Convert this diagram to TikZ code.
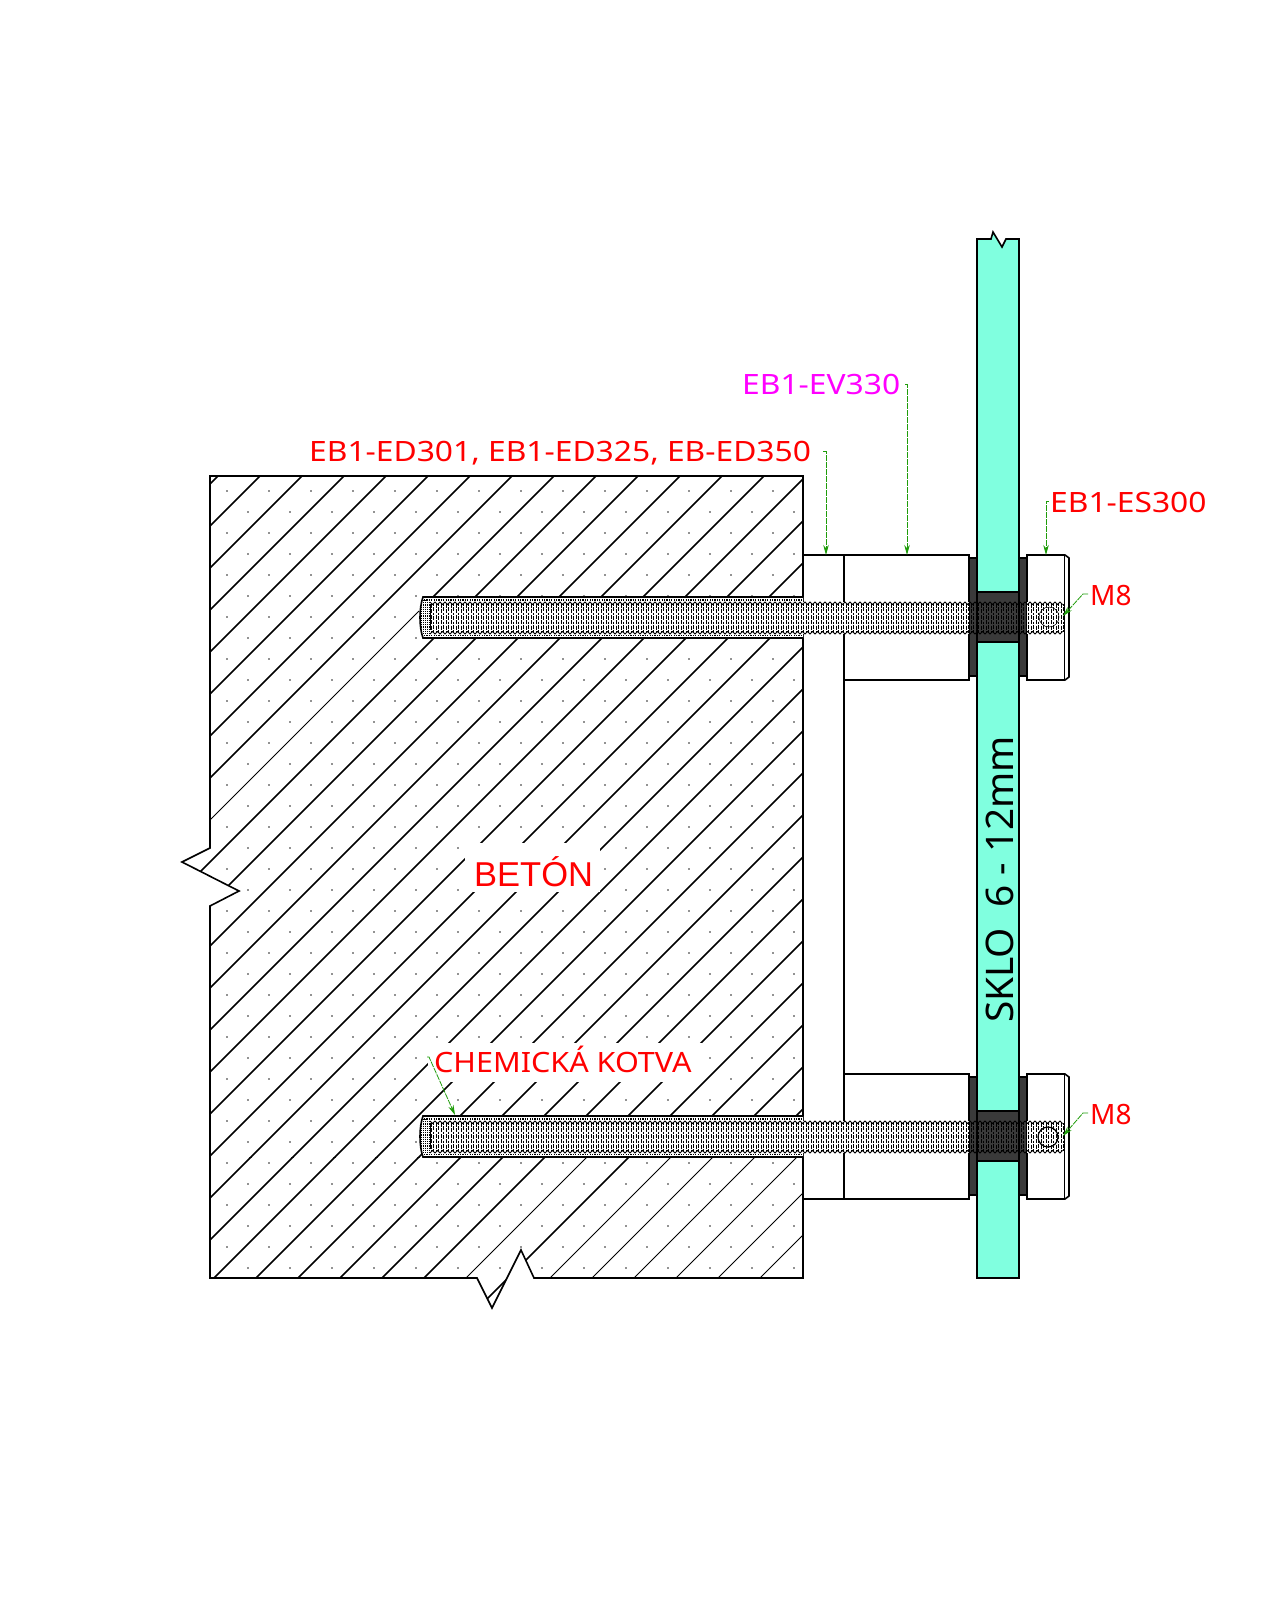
\documentclass[tikz,border=0pt]{standalone}
\usepackage{fontspec}
\usetikzlibrary{arrows.meta}
\setmainfont{Noto Sans}
\newfontfamily\betonfont{Liberation Sans}
\newfontfamily\codefont[FakeStretch=1.135]{Noto Sans}
\newfontfamily\chemfont[FakeStretch=1.09]{Noto Sans}
\newfontfamily\sklofont[FakeStretch=1.02]{Noto Sans}
\definecolor{glassc}{HTML}{80FFDF}
\definecolor{darkc}{HTML}{3A3A3A}
\definecolor{leaderc}{HTML}{1F9C0A}
\definecolor{labred}{HTML}{FF0000}
\definecolor{labmag}{HTML}{FF00FF}
\tikzset{
  outline/.style={draw=black,line width=1.6pt,line join=miter},
  hatchthick/.style={draw=black,line width=1.5pt},
  hatchthin/.style={draw=black,line width=.8pt},
  leader/.style={draw=leaderc,line width=.8pt,dash pattern=on 6pt off 1pt},
  leadertip/.style={leader,-{Stealth[length=10pt,width=5.5pt,fill=leaderc]}},
  lab/.style={anchor=base west,inner sep=0pt,text=labred,font=\codefont\fontsize{28}{30}\selectfont},
  threadv/.style={draw=black,line width=.7pt},
  threade/.style={draw=black,line width=.9pt,line join=miter},
}
\newcommand{\concretepath}{(210,476) -- (803,476) -- (803,1278) -- (534,1278) -- (521,1250) -- (492,1308) -- (477,1278) -- (210,1278) -- (210,906) -- (239,891) -- (182,862) -- (210,848) -- cycle}
\begin{document}
\begin{tikzpicture}[x=1pt,y=-1pt]
\useasboundingbox (0,0) rectangle (1280,1600);
\fill[white] (0,0) rectangle (1280,1600);
% concrete
\begin{scope}
  \clip \concretepath;
  \fill[black] \foreach \r in {0,...,37} {
     \foreach \m in {0,...,14} {
       ({227+42*\m+21*mod(\r,2)-.65},{491+21*\r-.65}) rectangle +(1.3,1.3)
     }
  };
  \begin{scope}
    \clip (0,0) rectangle (1280,1157);
    \foreach \k in {0,...,33} {
      \ifnum\k=8\relax\else
        \draw[hatchthick] ({694+42*\k-100},100) -- ({694+42*\k-1400},1400);
      \fi
    }
    \draw[hatchthick] (433,597) -- (554,476);
    \draw[hatchthin] (419,611) -- (190,840);
  \end{scope}
  \begin{scope}
    \clip (0,1157) rectangle (1280,1400);
    \foreach \k in {0,...,24,26} {
      \draw[hatchthick] ({694+42*\k-100},100) -- ({694+42*\k-1400},1400);
    }
    \foreach \k in {25,27,28,...,33} {
      \draw[hatchthin] ({694+42*\k-100},100) -- ({694+42*\k-1400},1400);
    }
  \end{scope}
\end{scope}
\fill[white] (465,843) rectangle (600,892);
\fill[white] (428,1043) rectangle (702,1082);
\path[outline] \concretepath;
% spacer
\path[outline,fill=white] (803,555) rectangle (844,1199);
% glass
\path[outline,fill=glassc] (977,239) -- (991,239) -- (993,232) -- (1002,247) -- (1006,239) -- (1019,239) -- (1019,1278) -- (977,1278) -- cycle;
% bolts
\foreach \o in {0,519} {
\begin{scope}[shift={(0,\o)}]
  \path[outline,fill=white] (844,555) rectangle (969,680);
  \path[outline,fill=darkc] (969,558) rectangle (977,676);
  \path[outline,fill=darkc] (1019,558) rectangle (1027,676);
  \path[outline,fill=darkc] (977,592) rectangle (1019,642);
  \path[outline,fill=white] (1027,555) -- (1065,555) -- (1069,558) -- (1069,677) -- (1065,680) -- (1027,680) -- cycle;
  \draw[draw=black,line width=1pt] (1064,555) -- (1064,680);
  \fill[white] (803,602) rectangle (969,634);
  \fill[white] (1027,602) rectangle (1063.5,634);
  % anchored part
  \path[outline,fill=white] (803,597) -- (423,597) .. controls (419,608) and (419,627) .. (423,638) -- (803,638);
  \foreach \s in {421.5,423.5,...,429.5} {
    \draw[threadv,dash pattern=on 1.2pt off 1pt] (\s,600) -- (\s,635);
  }
  \draw[threade] (430,604) -- (430,630);
  \draw[draw=black,line width=1.2pt,dash pattern=on 1.2pt off 1.2pt] (424,600) -- (803,600);
  \draw[draw=black,line width=1.2pt,dash pattern=on 1.2pt off 1.2pt] (424,635.5) -- (803,635.5);
  \foreach \i in {0,2,...,252} {
    \draw[threadv,dash pattern=on 4pt off 1.4pt] ({431+2.5*\i},604) -- ({431+2.5*\i},632);
  }
  \foreach \i in {1,3,...,253} {
    \draw[threadv,dash pattern=on 2pt off 1.4pt on 4pt off 1.4pt] ({431+2.5*\i},604) -- ({431+2.5*\i},632);
  }
  \draw[threade] (430,602) \foreach \i in {1,...,253} { -- ({430+2.5*\i},{602+2.5*mod(\i,2)}) };
  \draw[threade] (430,634) \foreach \i in {1,...,253} { -- ({430+2.5*\i},{634-2.5*mod(\i,2)}) };
\end{scope}
}
\draw[draw=black,line width=.5pt] (1049,617) circle (10);
\draw[draw=black,line width=1.2pt] (1048,1137) circle (10);
% labels
\node[lab] (ed) at (309,461) {EB1-ED301, EB1-ED325, EB-ED350};
\node[lab,text=labmag] (ev) at (742,394) {EB1-EV330};
\node[lab] (es) at (1050,512) {EB1-ES300};
\node[lab,font=\fontsize{28}{30}\selectfont] (m8a) at (1090,605) {M8};
\node[lab,font=\fontsize{28}{30}\selectfont] (m8b) at (1090,1124.5) {M8};
\node[lab,font=\chemfont\fontsize{28}{30}\selectfont] (chem) at (434,1072) {CHEMICKÁ KOTVA};
\node[anchor=base west,inner sep=0pt,text=labred,font=\betonfont\fontsize{34.5}{36}\selectfont] (beton) at (474,886.5) {BETÓN};
\node[anchor=base west,inner sep=0pt,rotate=90,text=black,font=\sklofont\fontsize{38}{40}\selectfont] (sklo) at (1013,1023) {SKLO\ \ 6 - 12mm};
% leaders
\coordinate (edH) at (823,451); \coordinate (edT) at (826,555);
\coordinate (evH) at (905,384); \coordinate (evT) at (907,555);
\coordinate (esH) at (1049,501); \coordinate (esT) at (1046,555);
\coordinate (m1H) at (1088,594); \coordinate (m1K) at (1083,594); \coordinate (m1T) at (1063,616);
\coordinate (m2H) at (1088,1113); \coordinate (m2K) at (1083,1113); \coordinate (m2T) at (1063,1136);
\coordinate (chH) at (427,1057); \coordinate (chK) at (429,1057); \coordinate (chT) at (455,1115);
\draw[leadertip] (edH) -| (edT);
\draw[leadertip] (evH) -| (evT);
\draw[leadertip] (esH) -| (esT);
\draw[leadertip] (m1H) -- (m1K) -- (m1T);
\draw[leadertip] (m2H) -- (m2K) -- (m2T);
\draw[leadertip] (chH) -- (chK) -- (chT);
\end{tikzpicture}
\end{document}
